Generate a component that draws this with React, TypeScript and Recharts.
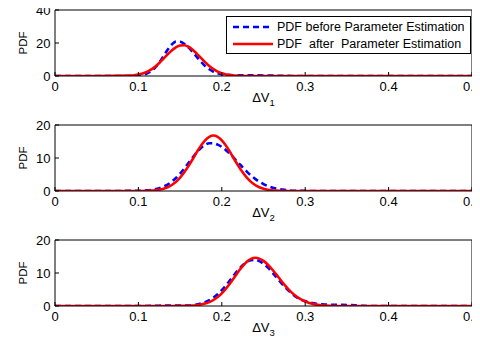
import React from "react";
import { LineChart, Line, XAxis, YAxis, Legend } from "recharts";

// x positions (ΔV) and PDF values
const x1 = [0, 0.05, 0.09, 0.095, 0.1, 0.105, 0.11, 0.115, 0.12, 0.125, 0.13, 0.135, 0.14, 0.145, 0.15, 0.155, 0.16, 0.165, 0.17, 0.175, 0.18, 0.185, 0.19, 0.195, 0.2, 0.205, 0.21, 0.215, 0.22, 0.23, 0.24, 0.25, 0.26, 0.27, 0.28, 0.29, 0.3, 0.4, 0.5];
const before1 = [0, 0, 0.04, 0.11, 0.28, 0.67, 1.45, 2.84, 5.06, 8.16, 11.94, 15.85, 19.08, 20.84, 20.79, 19.53, 17.34, 14.55, 11.53, 8.63, 6.11, 4.09, 2.6, 1.6, 1.05, 0.75, 0.55, 0.47, 0.45, 0.42, 0.38, 0.32, 0.22, 0.12, 0.05, 0, 0, 0, 0];
const after1 = [0, 0, 0.24, 0.46, 0.85, 1.48, 2.43, 3.81, 5.63, 7.88, 10.44, 13.08, 15.52, 17.42, 18.51, 18.62, 17.72, 15.95, 13.6, 10.97, 8.37, 6.05, 4.13, 2.67, 1.64, 0.95, 0.52, 0.27, 0.13, 0.03, 0, 0, 0, 0, 0, 0, 0, 0, 0];

const x2 = [0, 0.05, 0.1, 0.11, 0.115, 0.12, 0.125, 0.13, 0.135, 0.14, 0.145, 0.15, 0.155, 0.16, 0.165, 0.17, 0.175, 0.18, 0.185, 0.19, 0.195, 0.2, 0.205, 0.21, 0.215, 0.22, 0.225, 0.23, 0.235, 0.24, 0.245, 0.25, 0.255, 0.26, 0.265, 0.27, 0.275, 0.28, 0.29, 0.3, 0.32, 0.35, 0.4, 0.5];
const before2 = [0, 0, 0.05, 0.18, 0.31, 0.52, 0.85, 1.31, 1.96, 2.83, 3.93, 5.27, 6.8, 8.46, 10.14, 11.71, 13.04, 13.98, 14.46, 14.44, 14.05, 13.35, 12.38, 11.2, 9.89, 8.52, 7.16, 5.88, 4.71, 3.68, 2.81, 2.09, 1.52, 1.07, 0.74, 0.5, 0.33, 0.21, 0.08, 0.03, 0, 0, 0, 0];
const after2 = [0, 0, 0, 0.06, 0.11, 0.21, 0.39, 0.68, 1.14, 1.81, 2.77, 4.04, 5.65, 7.54, 9.63, 11.77, 13.75, 15.37, 16.43, 16.8, 16.43, 15.37, 13.75, 11.77, 9.63, 7.54, 5.65, 4.04, 2.77, 1.81, 1.14, 0.68, 0.39, 0.21, 0.11, 0.06, 0.03, 0.01, 0, 0, 0, 0, 0, 0];

const x3 = [0, 0.05, 0.1, 0.12, 0.13, 0.14, 0.15, 0.16, 0.165, 0.17, 0.175, 0.18, 0.185, 0.19, 0.195, 0.2, 0.205, 0.21, 0.215, 0.22, 0.225, 0.23, 0.235, 0.24, 0.245, 0.25, 0.255, 0.26, 0.265, 0.27, 0.275, 0.28, 0.285, 0.29, 0.295, 0.3, 0.305, 0.31, 0.315, 0.32, 0.325, 0.33, 0.34, 0.35, 0.36, 0.37, 0.38, 0.4, 0.5];
const before3 = [0, 0, 0, 0.05, 0.15, 0.15, 0.12, 0.15, 0.27, 0.46, 0.74, 1.16, 1.75, 2.54, 3.56, 4.8, 6.25, 7.83, 9.46, 11.01, 12.35, 13.35, 13.91, 13.97, 13.58, 12.79, 11.69, 10.35, 8.88, 7.38, 5.95, 4.65, 3.52, 2.58, 1.84, 1.5, 1.1, 0.8, 0.6, 0.5, 0.45, 0.4, 0.35, 0.3, 0.2, 0.05, 0, 0, 0];
const after3 = [0, 0, 0, 0, 0, 0.01, 0.03, 0.07, 0.13, 0.25, 0.43, 0.73, 1.17, 1.82, 2.7, 3.85, 5.26, 6.9, 8.67, 10.46, 12.1, 13.43, 14.3, 14.6, 14.36, 13.67, 12.58, 11.21, 9.66, 8.05, 6.5, 5.07, 3.83, 2.8, 1.98, 1.35, 0.89, 0.57, 0.35, 0.21, 0.12, 0.07, 0.02, 0, 0, 0, 0, 0, 0];

const xTicks = [0, 0.1, 0.2, 0.3, 0.4, 0.5];
const yTicksTop = [0, 20, 40];
const yTicksLow = [0, 10, 20];

const beforeName = "PDF before Parameter Estimation";
const afterName = "PDF  after  Parameter Estimation";
const legendOrder = ["before", "after"];

const FONT = "'Liberation Sans', Arial, Helvetica, sans-serif";
const LINE_W = 2.6;

const XTitle = ({ viewBox, sub }: any) => {
  const { x, y, width } = viewBox;
  return (
    <text x={x + width / 2} y={y + 26} textAnchor="middle" fontSize={13} fill="#000">
      ΔV
      <tspan fontSize={9.5} dy={4}>
        {sub}
      </tspan>
    </text>
  );
};

const YTitle = ({ viewBox }: any) => {
  const { y, height } = viewBox;
  const cy = y + height / 2;
  return (
    <text
      x={23}
      y={cy}
      transform={`rotate(-90, 23, ${cy})`}
      textAnchor="middle"
      dominantBaseline="central"
      fontSize={11.5}
      fill="#000"
    >
      PDF
    </text>
  );
};

const LegendBox = ({ payload }: any) => {
  const items = [...(payload || [])].sort(
    (a: any, b: any) => legendOrder.indexOf(a.dataKey) - legendOrder.indexOf(b.dataKey)
  );
  return (
    <div
      style={{
        border: "1px solid #000",
        background: "#fff",
        width: 245,
        height: 38,
        boxSizing: "border-box",
        paddingTop: 2,
        fontFamily: FONT,
      }}
    >
      {items.map((entry: any) => (
        <div key={entry.value} style={{ display: "flex", alignItems: "center", height: 16.5 }}>
          <svg width={48} height={10} style={{ display: "block" }}>
            <line
              x1={6}
              x2={46}
              y1={5}
              y2={5}
              stroke={entry.color}
              strokeWidth={LINE_W}
              strokeDasharray={entry.dataKey === "before" ? "6 4" : undefined}
            />
          </svg>
          <span style={{ whiteSpace: "pre", fontSize: 12.5, color: "#000", marginLeft: 2 }}>{entry.value}</span>
        </div>
      ))}
    </div>
  );
};

const Panel = ({ xs, before, after, yMax, yTicks, sub, showLegend }: any) => {
  const data = xs.map((x: number, i: number) => ({ x, before: before[i], after: after[i] }));
  return (
    <LineChart width={480} height={115} data={data} margin={{ top: 10, right: 8, bottom: 9, left: 0 }}>
      <XAxis
        dataKey="x"
        type="number"
        domain={[0, 0.5]}
        ticks={xTicks}
        interval={0}
        allowDataOverflow
        height={30}
        tickSize={-4}
        tickMargin={9.5}
        stroke="#000"
        tick={{ fontSize: 13, fill: "#000" }}
        label={<XTitle sub={sub} />}
      />
      <XAxis
        xAxisId="top"
        orientation="top"
        mirror
        dataKey="x"
        type="number"
        domain={[0, 0.5]}
        ticks={xTicks}
        interval={0}
        allowDataOverflow
        tick={false}
        tickSize={4}
        stroke="#000"
      />
      <YAxis
        type="number"
        domain={[0, yMax]}
        ticks={yTicks}
        interval={0}
        allowDataOverflow
        width={55}
        tickSize={-4}
        tickMargin={8.5}
        stroke="#000"
        tick={{ fontSize: 13, fill: "#000" }}
        label={<YTitle />}
      />
      <YAxis
        yAxisId="right"
        orientation="right"
        mirror
        type="number"
        domain={[0, yMax]}
        ticks={yTicks}
        interval={0}
        allowDataOverflow
        tick={false}
        tickSize={4}
        stroke="#000"
      />
      {showLegend && (
        <Legend
          layout="vertical"
          align="center"
          verticalAlign="middle"
          content={LegendBox}
          wrapperStyle={{ top: 16, left: 226, width: 245 }}
        />
      )}
      <Line
        type="monotone"
        dataKey="before"
        name={beforeName}
        stroke="#0000ff"
        strokeWidth={LINE_W}
        strokeDasharray="6 4"
        dot={false}
        isAnimationActive={false}
      />
      <Line
        type="monotone"
        dataKey="after"
        name={afterName}
        stroke="#ff0000"
        strokeWidth={LINE_W}
        dot={false}
        isAnimationActive={false}
      />
    </LineChart>
  );
};

const App: React.FC = () => {
  return (
    <div style={{ margin: -8, width: 480, height: 345, background: "#fff", fontFamily: FONT }}>
      <Panel xs={x1} before={before1} after={after1} yMax={40} yTicks={yTicksTop} sub="1" showLegend />
      <Panel xs={x2} before={before2} after={after2} yMax={20} yTicks={yTicksLow} sub="2" />
      <Panel xs={x3} before={before3} after={after3} yMax={20} yTicks={yTicksLow} sub="3" />
    </div>
  );
};

export default App;
